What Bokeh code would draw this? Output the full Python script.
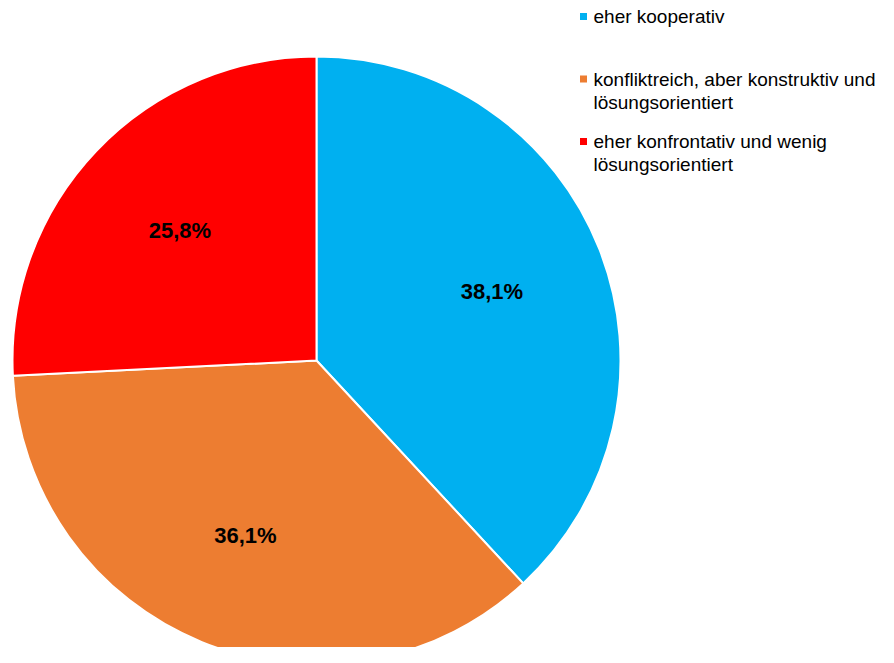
import numpy as np
from bokeh.plotting import figure
from bokeh.models import Range1d, ColumnDataSource
from bokeh.core.properties import value
from bokeh.embed import file_html
from bokeh.resources import INLINE

# ---- data ----
categories = ["eher kooperativ",
              "konfliktreich, aber konstruktiv und lösungsorientiert",
              "eher konfrontativ und wenig lösungsorientiert"]
legend_lines = [["eher kooperativ"],
                ["konfliktreich, aber konstruktiv und", "lösungsorientiert"],
                ["eher konfrontativ und wenig", "lösungsorientiert"]]
values = [38.1, 36.1, 25.8]
colors = ["#00B0F0", "#ED7D31", "#FF0000"]

# ---- layout (pixel coords, y measured downward from top) ----
W, H = 878, 647
def sy(y):
    return H - y

cx, cy, R = 316, sy(360), 304

p = figure(width=W, height=H, output_backend="svg", toolbar_location=None,
           x_range=Range1d(0, W), y_range=Range1d(0, H),
           min_border=0, outline_line_color=None, background_fill_color="white")
p.axis.visible = False
p.grid.visible = False

vals = np.array(values)
frac = vals / vals.sum()
cum = np.concatenate([[0], np.cumsum(frac)])
start = np.pi / 2 - cum[:-1] * 2 * np.pi
end = np.pi / 2 - cum[1:] * 2 * np.pi

src = ColumnDataSource(dict(start=start, end=end, color=colors))
p.wedge(x=cx, y=cy, radius=R, start_angle="start", end_angle="end",
        direction="clock", fill_color="color", line_color="white",
        line_width=2, source=src)

mid = (start + end) / 2
lr = 0.62 * R
lx = cx + lr * np.cos(mid)
ly = cy + lr * np.sin(mid)
labels = [f"{v:.1f}%".replace(".", ",") for v in values]
p.text(x=lx, y=ly, text=labels, text_align="center", text_baseline="middle",
       text_font=value("Liberation Sans"), text_font_style="bold",
       text_font_size="22px", text_color="black")

# ---- legend ----
sq_x, tx = 583, 593
for i, (lines, c) in enumerate(zip(legend_lines, colors)):
    y0 = 16 + 62.5 * i
    p.rect(x=[sq_x], y=[sy(y0)], width=7, height=7, fill_color=c, line_color=None)
    for j, line in enumerate(lines):
        p.text(x=[tx], y=[sy(y0 + 23 * j)], text=[line], text_align="left",
               text_baseline="middle", text_font=value("Liberation Sans"),
               text_font_size="19px", text_color="black")

open("out.html", "w").write(file_html(p, INLINE))
